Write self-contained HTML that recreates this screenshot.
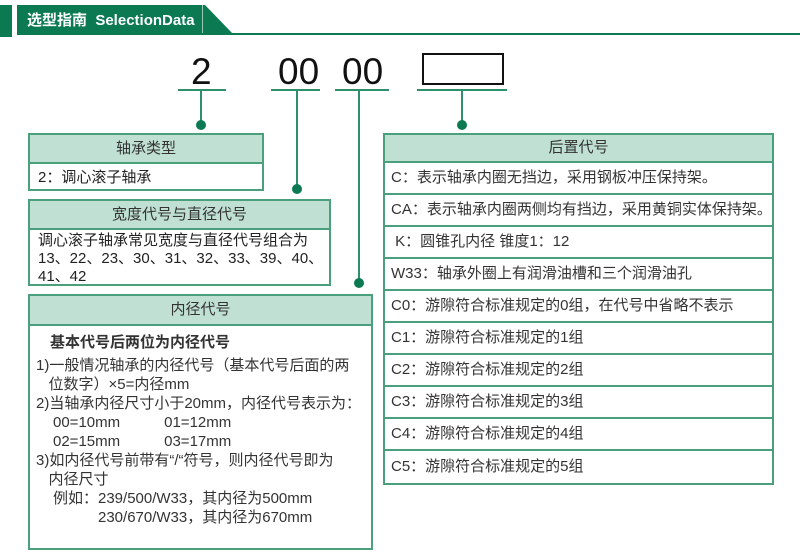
<!DOCTYPE html>
<html><head><meta charset="utf-8"><style>
body{margin:0;width:800px;height:559px;background:#fff;position:relative;overflow:hidden;font-family:"Liberation Sans","Noto Sans CJK SC",sans-serif;color:#222}
.a{position:absolute}
.box{position:absolute;border:2px solid #4aa07d;box-sizing:border-box;background:#fff}
.hd{background:#bfe0d3;border-bottom:2px solid #4aa07d;text-align:center;font-size:15px;color:#333;box-sizing:border-box}
.ln{position:absolute;background:#2e8f6a}
.dot{position:absolute;width:10px;height:10px;border-radius:50%;background:#0b7a52}
.row{border-top:2px solid #4aa07d;height:32px;box-sizing:border-box;font-size:15px;padding-left:6px;line-height:30px;color:#333;white-space:nowrap}
.num{position:absolute;font-size:37px;color:#111;top:51px}
</style></head><body>
<div class="a" style="left:0;top:5px;width:12px;height:32px;background:#0b7a52"></div>
<div class="a" style="left:17px;top:5px;width:186px;height:30px;background:#0b7a52"></div>
<div class="a" style="left:202px;top:5px;width:1px;height:30px;background:#9cc9b5"></div>
<svg class="a" style="left:203px;top:5px" width="30" height="30"><polygon points="0,0 2,0 30,29 30,30 0,30" fill="#0b7a52"/></svg>
<div class="a" style="left:17px;top:33px;width:783px;height:2px;background:#0b7a52"></div>
<div class="a" style="left:27px;top:10px;color:#fff;font-weight:bold;font-size:15px;line-height:22px">选型指南&nbsp; SelectionData</div>

<div class="num" style="left:191px">2</div>
<div class="num" style="left:278px">00</div>
<div class="num" style="left:342px">00</div>
<div class="a" style="left:422px;top:53px;width:78px;height:28px;border:2px solid #111"></div>

<div class="ln" style="left:178px;top:89px;width:48px;height:2px"></div>
<div class="ln" style="left:271px;top:89px;width:49px;height:2px"></div>
<div class="ln" style="left:335px;top:89px;width:54px;height:2px"></div>
<div class="ln" style="left:417px;top:89px;width:90px;height:2px"></div>
<div class="ln" style="left:200px;top:90px;width:2px;height:35px"></div>
<div class="dot" style="left:196px;top:120px"></div>
<div class="ln" style="left:296px;top:90px;width:2px;height:98px"></div>
<div class="dot" style="left:292px;top:184px"></div>
<div class="ln" style="left:358px;top:90px;width:2px;height:192px"></div>
<div class="dot" style="left:354px;top:278px"></div>
<div class="ln" style="left:461px;top:90px;width:2px;height:35px"></div>
<div class="dot" style="left:457px;top:120px"></div>

<div class="box" style="left:28px;top:133px;width:236px;height:58px">
<div class="hd" style="height:29px;line-height:27px">轴承类型</div>
<div style="font-size:15px;padding-left:8px;line-height:27px">2：调心滚子轴承</div></div>

<div class="box" style="left:28px;top:199px;width:303px;height:87px">
<div class="hd" style="height:29px;line-height:27px">宽度代号与直径代号</div>
<div style="font-size:15px;padding-left:8px;line-height:18px;padding-top:2px;white-space:nowrap">调心滚子轴承常见宽度与直径代号组合为<br>13、22、23、30、31、32、33、39、40、<br>41、42</div></div>

<div class="box" style="left:28px;top:294px;width:345px;height:256px">
<div class="hd" style="height:30px;line-height:28px">内径代号</div>
<div style="font-size:15px;line-height:19px;padding:7px 0 0 6px;color:#333;white-space:nowrap">
<div style="font-weight:bold;padding-left:14px;margin-bottom:4px;font-size:15px">基本代号后两位为内径代号</div>
1)一般情况轴承的内径代号（基本代号后面的两<br>&nbsp;&nbsp;&nbsp;位数字）×5=内径mm<br>
2)当轴承内径尺寸小于20mm，内径代号表示为：<br>
<span style="padding-left:17px">00=10mm</span><span style="padding-left:44px">01=12mm</span><br>
<span style="padding-left:17px">02=15mm</span><span style="padding-left:44px">03=17mm</span><br>
3)如内径代号前带有“/“符号，则内径代号即为<br>&nbsp;&nbsp;&nbsp;内径尺寸<br>
<span style="padding-left:17px">例如：239/500/W33，其内径为500mm</span><br>
<span style="padding-left:62px">230/670/W33，其内径为670mm</span></div></div>

<div class="box" style="left:383px;top:133px;width:391px;height:352px">
<div class="hd" style="height:26px;line-height:25px;border-bottom:none">后置代号</div>
<div class="row">C：表示轴承内圈无挡边，采用钢板冲压保持架。</div>
<div class="row">CA：表示轴承内圈两侧均有挡边，采用黄铜实体保持架。</div>
<div class="row">&nbsp;K：圆锥孔内径 锥度1：12</div>
<div class="row">W33：轴承外圈上有润滑油槽和三个润滑油孔</div>
<div class="row">C0：游隙符合标准规定的0组，在代号中省略不表示</div>
<div class="row">C1：游隙符合标准规定的1组</div>
<div class="row">C2：游隙符合标准规定的2组</div>
<div class="row">C3：游隙符合标准规定的3组</div>
<div class="row">C4：游隙符合标准规定的4组</div>
<div class="row" style="height:34px;line-height:32px">C5：游隙符合标准规定的5组</div>
</div>
</body></html>
